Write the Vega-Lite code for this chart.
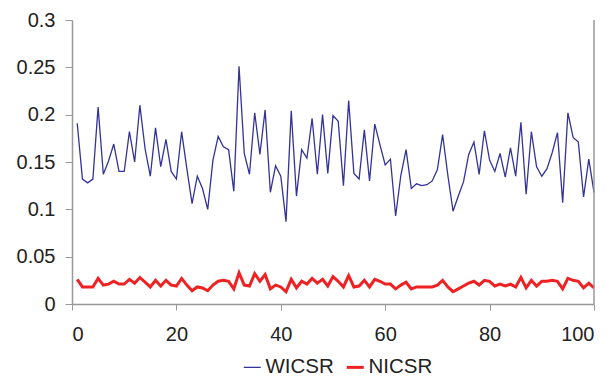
{
  "$schema": "https://vega.github.io/schema/vega-lite/v6.json",
  "width": 522,
  "height": 284,
  "autosize": {"type": "none"},
  "padding": {"left": 72, "top": 20, "right": 20, "bottom": 74},
  "background": "white",
  "config": {
    "view": {"stroke": null},
    "font": "Liberation Sans",
    "axis": {
      "grid": false,
      "title": null,
      "domainColor": "#999999",
      "domainWidth": 1.5,
      "tickColor": "#999999",
      "tickWidth": 1,
      "tickSize": 7,
      "labelFont": "Liberation Sans",
      "labelFontSize": 20,
      "labelColor": "#222222"
    }
  },
  "layer": [
    {
      "data": {
        "values": [
          {"t":1,"WICSR":0.191,"NICSR":0.026},{"t":2,"WICSR":0.132,"NICSR":0.018},{"t":3,"WICSR":0.128,"NICSR":0.018},{"t":4,"WICSR":0.132,"NICSR":0.018},{"t":5,"WICSR":0.208,"NICSR":0.027},
          {"t":6,"WICSR":0.137,"NICSR":0.020},{"t":7,"WICSR":0.151,"NICSR":0.021},{"t":8,"WICSR":0.169,"NICSR":0.024},{"t":9,"WICSR":0.140,"NICSR":0.021},{"t":10,"WICSR":0.140,"NICSR":0.021},
          {"t":11,"WICSR":0.182,"NICSR":0.026},{"t":12,"WICSR":0.150,"NICSR":0.022},{"t":13,"WICSR":0.210,"NICSR":0.028},{"t":14,"WICSR":0.164,"NICSR":0.023},{"t":15,"WICSR":0.135,"NICSR":0.018},
          {"t":16,"WICSR":0.186,"NICSR":0.025},{"t":17,"WICSR":0.145,"NICSR":0.019},{"t":18,"WICSR":0.174,"NICSR":0.025},{"t":19,"WICSR":0.140,"NICSR":0.020},{"t":20,"WICSR":0.132,"NICSR":0.019},
          {"t":21,"WICSR":0.182,"NICSR":0.027},{"t":22,"WICSR":0.143,"NICSR":0.020},{"t":23,"WICSR":0.106,"NICSR":0.014},{"t":24,"WICSR":0.135,"NICSR":0.018},{"t":25,"WICSR":0.122,"NICSR":0.017},
          {"t":26,"WICSR":0.100,"NICSR":0.014},{"t":27,"WICSR":0.152,"NICSR":0.020},{"t":28,"WICSR":0.177,"NICSR":0.024},{"t":29,"WICSR":0.166,"NICSR":0.025},{"t":30,"WICSR":0.163,"NICSR":0.024},
          {"t":31,"WICSR":0.119,"NICSR":0.016},{"t":32,"WICSR":0.251,"NICSR":0.033},{"t":33,"WICSR":0.159,"NICSR":0.020},{"t":34,"WICSR":0.137,"NICSR":0.019},{"t":35,"WICSR":0.202,"NICSR":0.032},
          {"t":36,"WICSR":0.158,"NICSR":0.024},{"t":37,"WICSR":0.205,"NICSR":0.031},{"t":38,"WICSR":0.118,"NICSR":0.016},{"t":39,"WICSR":0.146,"NICSR":0.020},{"t":40,"WICSR":0.135,"NICSR":0.018},
          {"t":41,"WICSR":0.087,"NICSR":0.013},{"t":42,"WICSR":0.204,"NICSR":0.026},{"t":43,"WICSR":0.114,"NICSR":0.017},{"t":44,"WICSR":0.163,"NICSR":0.024},{"t":45,"WICSR":0.154,"NICSR":0.021},
          {"t":46,"WICSR":0.196,"NICSR":0.027},{"t":47,"WICSR":0.137,"NICSR":0.022},{"t":48,"WICSR":0.200,"NICSR":0.026},{"t":49,"WICSR":0.138,"NICSR":0.019},{"t":50,"WICSR":0.199,"NICSR":0.029},
          {"t":51,"WICSR":0.193,"NICSR":0.024},{"t":52,"WICSR":0.125,"NICSR":0.018},{"t":53,"WICSR":0.215,"NICSR":0.030},{"t":54,"WICSR":0.138,"NICSR":0.018},{"t":55,"WICSR":0.132,"NICSR":0.019},
          {"t":56,"WICSR":0.184,"NICSR":0.025},{"t":57,"WICSR":0.130,"NICSR":0.018},{"t":58,"WICSR":0.190,"NICSR":0.026},{"t":59,"WICSR":0.168,"NICSR":0.024},{"t":60,"WICSR":0.147,"NICSR":0.021},
          {"t":61,"WICSR":0.153,"NICSR":0.021},{"t":62,"WICSR":0.093,"NICSR":0.016},{"t":63,"WICSR":0.136,"NICSR":0.020},{"t":64,"WICSR":0.163,"NICSR":0.023},{"t":65,"WICSR":0.122,"NICSR":0.016},
          {"t":66,"WICSR":0.127,"NICSR":0.018},{"t":67,"WICSR":0.125,"NICSR":0.018},{"t":68,"WICSR":0.126,"NICSR":0.018},{"t":69,"WICSR":0.130,"NICSR":0.018},{"t":70,"WICSR":0.142,"NICSR":0.020},
          {"t":71,"WICSR":0.179,"NICSR":0.025},{"t":72,"WICSR":0.136,"NICSR":0.018},{"t":73,"WICSR":0.098,"NICSR":0.013},{"t":74,"WICSR":0.114,"NICSR":0.016},{"t":75,"WICSR":0.129,"NICSR":0.019},
          {"t":76,"WICSR":0.158,"NICSR":0.022},{"t":77,"WICSR":0.171,"NICSR":0.024},{"t":78,"WICSR":0.137,"NICSR":0.020},{"t":79,"WICSR":0.183,"NICSR":0.025},{"t":80,"WICSR":0.152,"NICSR":0.024},
          {"t":81,"WICSR":0.140,"NICSR":0.019},{"t":82,"WICSR":0.159,"NICSR":0.021},{"t":83,"WICSR":0.134,"NICSR":0.019},{"t":84,"WICSR":0.165,"NICSR":0.021},{"t":85,"WICSR":0.135,"NICSR":0.018},
          {"t":86,"WICSR":0.192,"NICSR":0.028},{"t":87,"WICSR":0.116,"NICSR":0.017},{"t":88,"WICSR":0.182,"NICSR":0.025},{"t":89,"WICSR":0.145,"NICSR":0.019},{"t":90,"WICSR":0.135,"NICSR":0.024},
          {"t":91,"WICSR":0.143,"NICSR":0.024},{"t":92,"WICSR":0.160,"NICSR":0.025},{"t":93,"WICSR":0.181,"NICSR":0.024},{"t":94,"WICSR":0.107,"NICSR":0.016},{"t":95,"WICSR":0.202,"NICSR":0.027},
          {"t":96,"WICSR":0.176,"NICSR":0.025},{"t":97,"WICSR":0.171,"NICSR":0.024},{"t":98,"WICSR":0.113,"NICSR":0.017},{"t":99,"WICSR":0.153,"NICSR":0.022},{"t":100,"WICSR":0.118,"NICSR":0.017}
        ]
      },
      "transform": [{"fold": ["WICSR", "NICSR"], "as": ["series", "value"]}],
      "mark": {"type": "line", "interpolate": "linear"},
      "encoding": {
        "x": {
          "field": "t",
          "type": "quantitative",
          "scale": {"domain": [0, 100], "nice": false},
          "axis": {"values": [0, 20, 40, 60, 80, 100], "labelPadding": 14, "tickSize": 6}
        },
        "y": {
          "field": "value",
          "type": "quantitative",
          "scale": {"domain": [0, 0.3], "nice": false},
          "axis": {"values": [0, 0.05, 0.1, 0.15, 0.2, 0.25, 0.3], "format": ".2~f", "labelPadding": 10, "tickSize": 7}
        },
        "color": {
          "field": "series",
          "type": "nominal",
          "scale": {"domain": ["WICSR", "NICSR"], "range": ["#333399", "#ee2222"]},
          "legend": {
            "title": null,
            "orient": "none",
            "direction": "horizontal",
            "legendX": 170,
            "legendY": 337,
            "symbolType": "stroke",
            "symbolSize": 289,
            "labelFontSize": 20.5,
            "labelFont": "Liberation Sans",
            "labelColor": "#222222",
            "labelOffset": 3,
            "columnPadding": 6
          }
        },
        "strokeWidth": {
          "field": "series",
          "type": "nominal",
          "scale": {"domain": ["WICSR", "NICSR"], "range": [1.3, 3]},
          "legend": {
            "title": null,
            "orient": "none",
            "direction": "horizontal",
            "legendX": 170,
            "legendY": 337,
            "symbolType": "stroke",
            "symbolSize": 289,
            "labelFontSize": 20.5,
            "labelFont": "Liberation Sans",
            "labelColor": "#222222",
            "labelOffset": 3,
            "columnPadding": 6
          }
        }
      }
    },
    {
      "data": {"values": [{"t": 100}]},
      "mark": {"type": "rule", "color": "#999999", "strokeWidth": 1.5},
      "encoding": {"x": {"field": "t", "type": "quantitative"}}
    }
  ]
}
